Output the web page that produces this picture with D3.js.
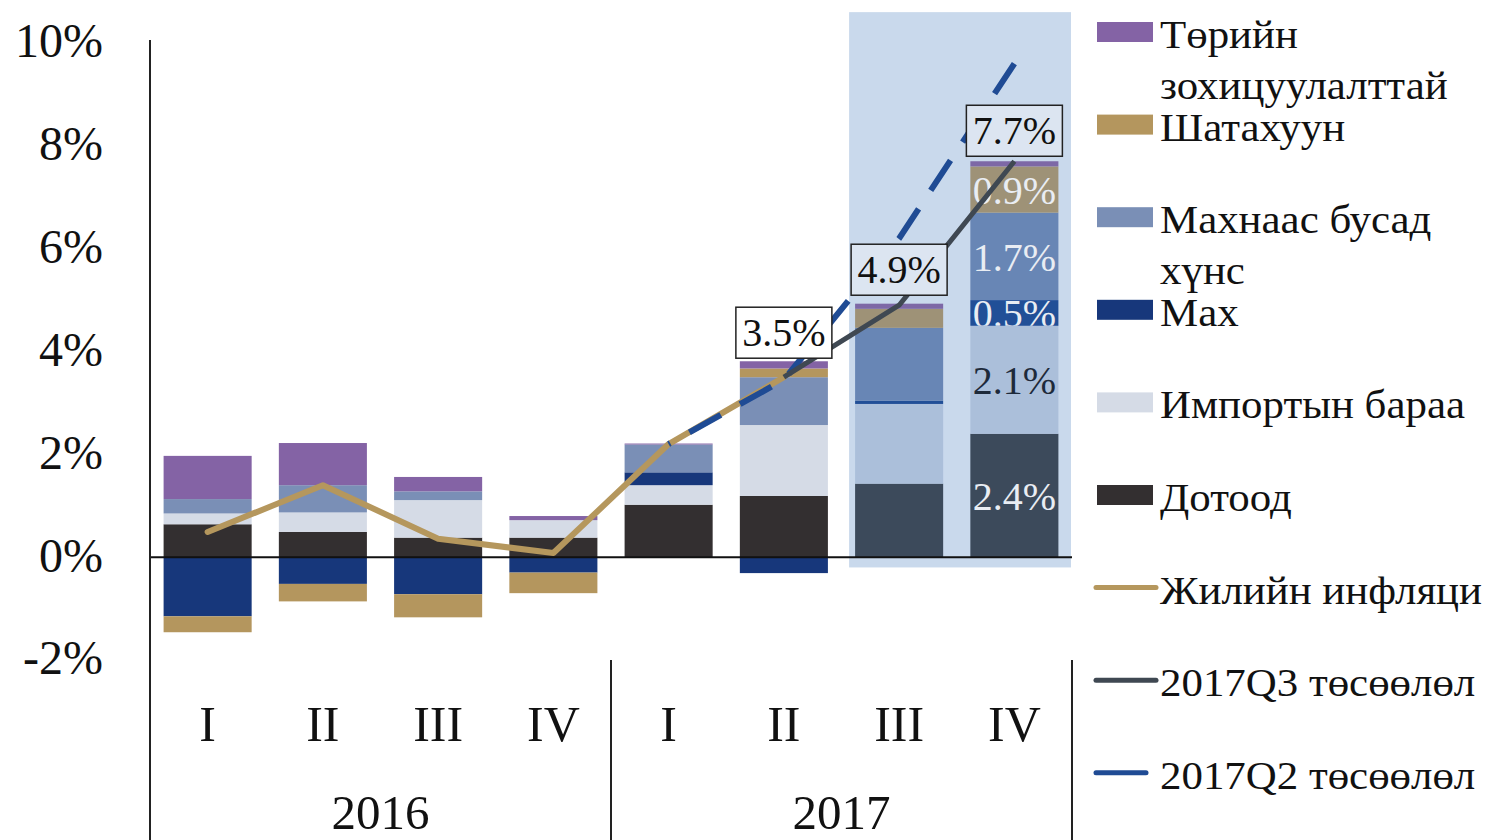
<!DOCTYPE html>
<html lang="mn">
<head>
<meta charset="UTF-8">
<title>Инфляцийн задаргаа</title>
<script src="https://cdn.jsdelivr.net/npm/d3@7/dist/d3.min.js"></script>
<style>
    body { margin: 0; background: #fff; }
    text { font-family: "Liberation Serif", "DejaVu Serif", serif; fill: #111; }
</style>
</head>
<body>
<svg width="1497" height="840"></svg>
<script>

// ангилал, тэнхлэгийн тэмдэглэгээ
var years = ['2016', '2017'];
var quarters = ['I', 'II', 'III', 'IV', 'I', 'II', 'III', 'IV'];
var periods = ['2016 I', '2016 II', '2016 III', '2016 IV', '2017 I', '2017 II', '2017 III', '2017 IV'];
var yTicks = [-2, 0, 2, 4, 6, 8, 10];

// бүрэлдэхүүн хэсгүүдийн нөлөө, %
var domestic  = [0.64, 0.49, 0.38, 0.38, 1.02, 1.19, 1.43, 2.4];
var imported  = [0.21, 0.38, 0.73, 0.34, 0.38, 1.38, 1.55, 2.1];
var meat      = [-1.15, -0.52, -0.72, -0.30, 0.25, -0.31, 0.06, 0.5];
var nonMeat   = [0.28, 0.53, 0.17, 0.0, 0.54, 0.93, 1.42, 1.7];
var fuel      = [-0.31, -0.34, -0.45, -0.40, 0.0, 0.17, 0.37, 0.9];
var regulated = [0.84, 0.82, 0.28, 0.08, 0.02, 0.14, 0.1, 0.1];

// шугамууд
var inflation  = [0.49, 1.40, 0.36, 0.08, 2.2, 3.5, null, null];
var proj2017Q3 = [null, null, null, null, null, 3.5, 4.9, 7.7];
var proj2017Q2 = [null, null, null, null, 2.2, 3.45, 6.2, 9.6];

var keys = ['domestic', 'imported', 'meat', 'nonMeat', 'fuel', 'regulated'];
var seriesData = {domestic: domestic, imported: imported, meat: meat, nonMeat: nonMeat, fuel: fuel, regulated: regulated};

// бодит ба төсөөллийн улирлын өнгө
var colorActual = {domestic: '#332f30', imported: '#d5dbe6', meat: '#17377b', nonMeat: '#7a8fb6', fuel: '#b4965e', regulated: '#8463a5'};
var colorProj   = {domestic: '#3c4a5b', imported: '#abbfda', meat: '#214f97', nonMeat: '#6886b5', fuel: '#9e9277', regulated: '#7d68a6'};
var firstProj = 6;

var svg = d3.select('svg');

var x = d3.scaleBand()
    .domain(periods)
    .range([150, 1072])
    .paddingInner(0.236)
    .paddingOuter(0.118);

var y = d3.scaleLinear()
    .domain([-2, 10])
    .range([660, 43]);

var rows = periods.map(function (p, i) {
    var r = {period: p, index: i};
    keys.forEach(function (k) { r[k] = seriesData[k][i]; });
    return r;
});

var stacked = d3.stack()
    .keys(keys)
    .offset(d3.stackOffsetDiverging)(rows);

// төсөөллийн хэсгийн дэвсгэр
svg.append('rect')
    .attr('x', x(periods[firstProj]) - 6)
    .attr('y', y(10.6))
    .attr('width', x.range()[1] - 1 - (x(periods[firstProj]) - 6))
    .attr('height', y(-0.2) - y(10.6))
    .attr('fill', '#c9d9ec');

// багана
var defs = svg.append('defs');
var gBars = svg.append('g');
stacked.forEach(function (s) {
    gBars.selectAll(null)
        .data(s)
        .enter()
        .append('rect')
        .attr('x', function (d) { return x(d.data.period); })
        .attr('width', x.bandwidth())
        .attr('y', function (d) { return y(Math.max(d[0], d[1])); })
        .attr('height', function (d) { return Math.abs(y(d[0]) - y(d[1])); })
        .attr('fill', function (d) {
            return d.data.index >= firstProj ? colorProj[s.key] : colorActual[s.key];
        });
});

// тэг шугам
svg.append('line')
    .attr('x1', 150).attr('x2', x.range()[1])
    .attr('y1', y(0)).attr('y2', y(0))
    .attr('stroke', '#111').attr('stroke-width', 2);

// сүүлийн баганын доторх утгууд
var last = periods.length - 1;
var gIn = svg.append('g');
stacked.forEach(function (s, si) {
    var d = s[last];
    var v = d[1] - d[0];
    if (Math.abs(v) < 0.3) return;
    var top = y(Math.max(d[0], d[1]));
    var h = Math.abs(y(d[0]) - y(d[1]));
    defs.append('clipPath').attr('id', 'clip' + si)
        .append('rect')
        .attr('x', x(d.data.period)).attr('y', top)
        .attr('width', x.bandwidth()).attr('height', h);
    gIn.append('text')
        .attr('clip-path', 'url(#clip' + si + ')')
        .attr('x', x(d.data.period) + x.bandwidth() / 2)
        .attr('y', y((d[0] + d[1]) / 2))
        .attr('dy', '0.36em')
        .attr('text-anchor', 'middle')
        .attr('font-size', 40)
        .style('fill', s.key === 'imported' ? '#1e2a3a' : '#e9edf3')
        .text(v.toFixed(1) + '%');
});

// шугамууд
var cx = function (i) { return x(periods[i]) + x.bandwidth() / 2; };
function lineOf(arr) {
    return d3.line()
        .defined(function (d) { return d != null; })
        .x(function (d, i) { return cx(i); })
        .y(function (d) { return y(d); })(arr);
}

svg.append('path')
    .attr('d', lineOf(inflation))
    .attr('fill', 'none')
    .attr('stroke', '#b5975d')
    .attr('stroke-width', 6)
    .attr('stroke-linejoin', 'round')
    .attr('stroke-linecap', 'round');

var q2 = svg.append('path')
    .attr('d', lineOf(proj2017Q2))
    .attr('fill', 'none')
    .attr('stroke', '#1f4b94')
    .attr('stroke-width', 6)
    .attr('stroke-dasharray', '36,22');
// зураасыг төгсгөлд нь бүтэн дуусгах
var len = q2.node().getTotalLength();
q2.attr('stroke-dashoffset', ((36 - len % 58) % 58 + 58) % 58);

svg.append('path')
    .attr('d', lineOf(proj2017Q3))
    .attr('fill', 'none')
    .attr('stroke', '#3f4852')
    .attr('stroke-width', 5)
    .attr('stroke-linejoin', 'round');

// нийт дүнгийн шошго
var boxDy = {5: -45, 6: -36, 7: -31};
proj2017Q3.forEach(function (v, i) {
    if (v == null) return;
    var g = svg.append('g')
        .attr('transform', 'translate(' + cx(i) + ',' + (y(v) + boxDy[i]) + ')');
    g.append('rect')
        .attr('x', -48).attr('y', -25)
        .attr('width', 96).attr('height', 51)
        .attr('fill', i >= firstProj ? '#dce5f1' : '#fff')
        .attr('stroke', '#222').attr('stroke-width', 1.5);
    g.append('text')
        .attr('text-anchor', 'middle')
        .attr('dy', '0.35em')
        .attr('font-size', 40)
        .text(v.toFixed(1) + '%');
});

// y тэнхлэг
svg.append('line')
    .attr('x1', 150).attr('x2', 150)
    .attr('y1', y(10) - 3).attr('y2', 840)
    .attr('stroke', '#222').attr('stroke-width', 2);

svg.append('g')
    .selectAll('text')
    .data(yTicks)
    .enter()
    .append('text')
    .attr('x', 103)
    .attr('y', function (d) { return y(d); })
    .attr('dy', '0.3em')
    .attr('text-anchor', 'end')
    .attr('font-size', 48)
    .text(function (d) { return d + '%'; });

// x тэнхлэг: улирал, он
svg.append('g')
    .selectAll('text')
    .data(periods)
    .enter()
    .append('text')
    .attr('x', function (d, i) { return cx(i); })
    .attr('y', 741)
    .attr('text-anchor', 'middle')
    .attr('font-size', 50)
    .text(function (d, i) { return quarters[i]; });

var step = x.step();
[1, 2].forEach(function (k) {
    svg.append('line')
        .attr('x1', 150 + k * 4 * step).attr('x2', 150 + k * 4 * step)
        .attr('y1', y(-2)).attr('y2', 840)
        .attr('stroke', '#222').attr('stroke-width', 2);
});

svg.append('g')
    .selectAll('text')
    .data(years)
    .enter()
    .append('text')
    .attr('x', function (d, i) { return 150 + (i * 4 + 2) * step; })
    .attr('y', 829)
    .attr('text-anchor', 'middle')
    .attr('font-size', 49)
    .text(function (d) { return d; });

// тайлбар
var legendItems = [
    {type: 'rect', color: colorActual.regulated, lines: ['Төрийн', 'зохицуулалттай']},
    {type: 'rect', color: colorActual.fuel, lines: ['Шатахуун']},
    {type: 'rect', color: colorActual.nonMeat, lines: ['Махнаас бусад', 'хүнс']},
    {type: 'rect', color: colorActual.meat, lines: ['Мах']},
    {type: 'rect', color: colorActual.imported, lines: ['Импортын бараа']},
    {type: 'rect', color: colorActual.domestic, lines: ['Дотоод']},
    {type: 'line', color: '#b5975d', lines: ['Жилийн инфляци'], len: 60},
    {type: 'line', color: '#3f4852', lines: ['2017Q3 төсөөлөл'], len: 60},
    {type: 'line', color: '#1f4b94', lines: ['2017Q2 төсөөлөл'], len: 50}
];

var legend = svg.append('g');
legendItems.forEach(function (it, i) {
    var cy = 32 + i * 92.6;
    if (it.type === 'rect') {
        legend.append('rect')
            .attr('x', 1097).attr('y', cy - 10)
            .attr('width', 56).attr('height', 20)
            .attr('fill', it.color);
    } else {
        legend.append('line')
            .attr('x1', 1096).attr('x2', 1096 + it.len)
            .attr('y1', cy).attr('y2', cy)
            .attr('stroke', it.color)
            .attr('stroke-width', 5)
            .attr('stroke-linecap', 'round');
    }
    it.lines.forEach(function (t, j) {
        legend.append('text')
            .attr('transform', 'translate(1160,' + (cy + 16 + j * 51) + ') scale(1.1,1)')
            .attr('font-size', 39)
            .text(t);
    });
});

</script>
</body>
</html>
